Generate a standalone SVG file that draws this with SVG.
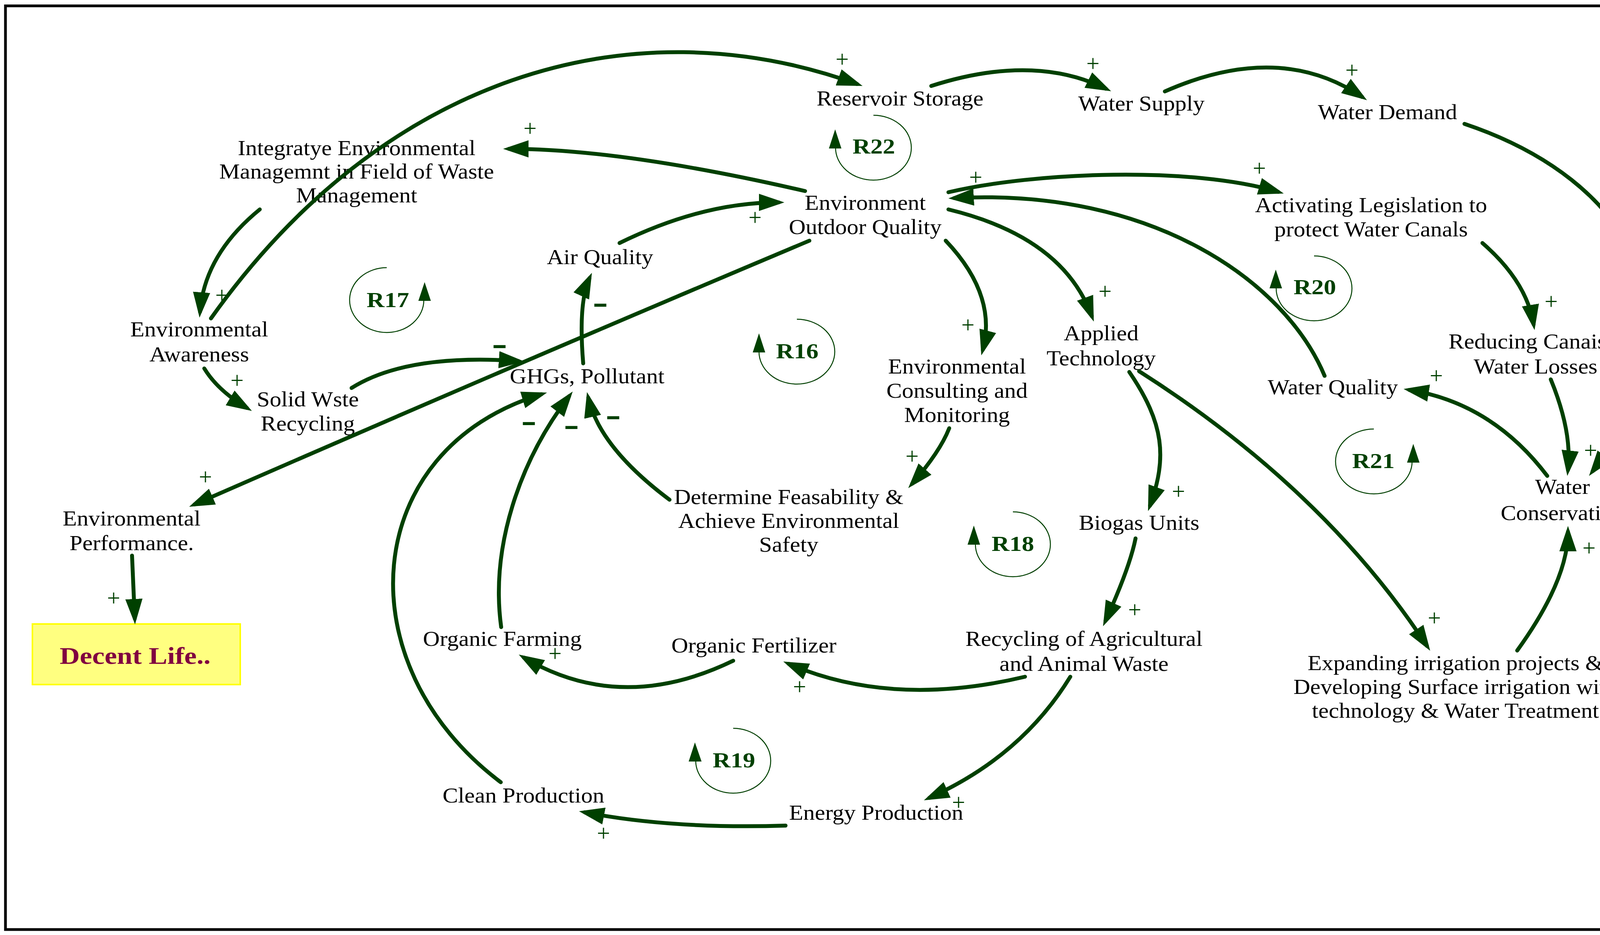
<svg xmlns="http://www.w3.org/2000/svg" width="4399" height="2393" viewBox="0 0 4399 2393">
<defs>
<style>
.t{font-family:'Liberation Serif','Times New Roman',serif;font-size:55px;fill:#000;text-anchor:middle}
.r{font-family:'Liberation Serif','Times New Roman',serif;font-size:54px;font-weight:bold;fill:#004000;text-anchor:middle}
.p{font-family:'Liberation Serif','Times New Roman',serif;font-size:60px;fill:#004000;text-anchor:middle}
.m{font-family:'Liberation Sans',Arial,sans-serif;font-size:58px;font-weight:bold;fill:#004000;stroke:#004000;stroke-width:2;text-anchor:middle}
.c{fill:none;stroke:#004000;stroke-width:10;stroke-linecap:round;marker-end:url(#ah)}
.l{fill:none;stroke:#004000;stroke-width:2.5}
.lh{fill:#004000}
</style>
<marker id="ah" markerUnits="userSpaceOnUse" markerWidth="70" markerHeight="50" viewBox="0 -25 70 50" refX="50" refY="0" orient="auto">
<path d="M0,-22 L65,0 L0,22 z" fill="#004000"/>
</marker>
</defs>
<rect x="0" y="0" width="4399" height="2393" fill="#fff"/>
<rect x="14" y="15" width="4366" height="2364" fill="none" stroke="#000" stroke-width="7"/>

<g id="nodes">
<g id="n-reservoir"><text class="t" transform="matrix(1.08,0,0,1,2304,0)" x="0" y="270">Reservoir Storage</text></g>
<g id="n-watersupply"><text class="t" transform="matrix(1.08,0,0,1,2922,0)" x="0" y="283">Water Supply</text></g>
<g id="n-waterdemand"><text class="t" transform="matrix(1.08,0,0,1,3552,0)" x="0" y="305">Water Demand</text></g>
<g id="n-integrate"><text class="t" transform="matrix(1.08,0,0,1,913,0)"><tspan x="0" y="397">Integratye Environmental</tspan><tspan x="0" y="457">Managemnt in Field of Waste</tspan><tspan x="0" y="518">Management</tspan></text></g>
<g id="n-environment"><text class="t" transform="matrix(1.08,0,0,1,2215,0)"><tspan x="0" y="537">Environment</tspan><tspan x="0" y="599">Outdoor Quality</tspan></text></g>
<g id="n-airquality"><text class="t" transform="matrix(1.08,0,0,1,1536,0)" x="0" y="676">Air Quality</text></g>
<g id="n-awareness"><text class="t" transform="matrix(1.08,0,0,1,510,0)"><tspan x="0" y="861">Environmental</tspan><tspan x="0" y="925">Awareness</tspan></text></g>
<g id="n-solidwaste"><text class="t" transform="matrix(1.08,0,0,1,788,0)"><tspan x="0" y="1040">Solid Wste</tspan><tspan x="0" y="1102">Recycling</tspan></text></g>
<g id="n-performance"><text class="t" transform="matrix(1.08,0,0,1,337,0)"><tspan x="0" y="1345">Environmental</tspan><tspan x="0" y="1408">Performance.</tspan></text></g>
<g id="n-ghgs"><text class="t" transform="matrix(1.08,0,0,1,1503,0)" x="0" y="981">GHGs, Pollutant</text></g>
<g id="n-determine"><text class="t" transform="matrix(1.08,0,0,1,2019,0)"><tspan x="0" y="1290">Determine Feasability &amp;</tspan><tspan x="0" y="1351">Achieve Environmental</tspan><tspan x="0" y="1412">Safety</tspan></text></g>
<g id="n-consulting"><text class="t" transform="matrix(1.08,0,0,1,2450,0)"><tspan x="0" y="956">Environmental</tspan><tspan x="0" y="1018">Consulting and</tspan><tspan x="0" y="1080">Monitoring</tspan></text></g>
<g id="n-applied"><text class="t" transform="matrix(1.08,0,0,1,2819,0)"><tspan x="0" y="871">Applied</tspan><tspan x="0" y="935">Technology</tspan></text></g>
<g id="n-biogas"><text class="t" transform="matrix(1.08,0,0,1,2916,0)" x="0" y="1356">Biogas Units</text></g>
<g id="n-legislation"><text class="t" transform="matrix(1.08,0,0,1,3510,0)"><tspan x="0" y="543">Activating Legislation to</tspan><tspan x="0" y="605">protect Water Canals</tspan></text></g>
<g id="n-reducing"><text class="t" transform="matrix(1.08,0,0,1,3931,0)"><tspan x="0" y="892">Reducing Canais a</tspan><tspan x="0" y="956">Water Losses</tspan></text></g>
<g id="n-waterquality"><text class="t" transform="matrix(1.08,0,0,1,3412,0)" x="0" y="1009">Water Quality</text></g>
<g id="n-conservation"><text class="t" transform="matrix(1.08,0,0,1,4000,0)"><tspan x="0" y="1264">Water</tspan><tspan x="0" y="1331">Conservation</tspan></text></g>
<g id="n-expanding"><text class="t" transform="matrix(1.08,0,0,1,3726,0)"><tspan x="0" y="1715">Expanding irrigation projects &amp;</tspan><tspan x="0" y="1776">Developing Surface irrigation with</tspan><tspan x="0" y="1837">technology &amp; Water Treatment</tspan></text></g>
<g id="n-recycling"><text class="t" transform="matrix(1.08,0,0,1,2775,0)"><tspan x="0" y="1653">Recycling of Agricultural</tspan><tspan x="0" y="1717">and Animal Waste</tspan></text></g>
<g id="n-fertilizer"><text class="t" transform="matrix(1.08,0,0,1,1930,0)" x="0" y="1670">Organic Fertilizer</text></g>
<g id="n-farming"><text class="t" transform="matrix(1.08,0,0,1,1286,0)" x="0" y="1653">Organic Farming</text></g>
<g id="n-clean"><text class="t" transform="matrix(1.08,0,0,1,1340,0)" x="0" y="2054">Clean Production</text></g>
<g id="n-energy"><text class="t" transform="matrix(1.08,0,0,1,2243,0)" x="0" y="2098">Energy Production</text></g>
<g id="n-decent">
<rect x="83" y="1597" width="532" height="155" fill="#FFFF80" stroke="#FFFF00" stroke-width="4"/>
<text transform="matrix(1.17,0,0,1,346,0)" x="0" y="1699" style="font-family:'Liberation Serif','Times New Roman',serif;font-size:61px;font-weight:bold;fill:#800040;text-anchor:middle">Decent Life..</text>
</g>
</g>

<g id="connectors">
<path class="c" d="M540,815 C977,199 1610,5 2194,215"/>
<path class="c" d="M665,536 Q524,651 512,798"/>
<path class="c" d="M2061,489 Q1593,381 1303,381"/>
<path class="c" d="M1586,622 Q1798,518 1993,518"/>
<path class="c" d="M1493,930 Q1480,775 1509,712"/>
<path class="c" d="M900,993 C1000,930 1150,912 1327,924"/>
<path class="c" d="M2072,616 Q1290,945 498,1291"/>
<path class="c" d="M338,1422 L345,1583"/>
<path class="c" d="M523,943 Q557,999 632,1044"/>
<path class="c" d="M1282,2002 C880,1700 920,1150 1386,1009"/>
<path class="c" d="M1283,1605 C1255,1400 1330,1180 1457,1014"/>
<path class="c" d="M1714,1279 Q1535,1145 1506,1018"/>
<path class="c" d="M2421,616 Q2553,755 2516,895"/>
<path class="c" d="M2430,1096 Q2406,1157 2335,1238"/>
<path class="c" d="M2428,536 Q2721,607 2795,809"/>
<path class="c" d="M2428,492 C2650,440 3050,425 3272,491"/>
<path class="c" d="M3391,962 C3290,720 2950,480 2443,507"/>
<path class="c" d="M3795,622 Q3908,720 3926,830"/>
<path class="c" d="M3749,317 C4176,460 4380,808 4077,1206"/>
<path class="c" d="M3970,971 Q4025,1105 4014,1203"/>
<path class="c" d="M3961,1218 Q3820,1032 3608,998"/>
<path class="c" d="M3884,1665 Q4014,1485 4014,1361"/>
<path class="c" d="M2916,950 Q3390,1252 3653,1653"/>
<path class="c" d="M2891,952 C2981,1084 2988,1172 2944,1294"/>
<path class="c" d="M2907,1378 Q2892,1453 2830,1589"/>
<path class="c" d="M2624,1732 Q2284,1813 2019,1699"/>
<path class="c" d="M1877,1691 Q1590,1830 1341,1683"/>
<path class="c" d="M2740,1732 Q2615,1936 2379,2042"/>
<path class="c" d="M2011,2113 Q1719,2122 1497,2079"/>
<path class="c" d="M2982,234 Q3275,105 3487,248"/>
<path class="c" d="M2384,220 Q2646,136 2831,227"/>
</g>

<g id="polarities">
<text class="p" x="2156" y="171">+</text>
<text class="p" x="2798" y="182">+</text>
<text class="p" x="3461" y="199">+</text>
<text class="p" x="1357" y="348">+</text>
<text class="p" x="1933" y="576">+</text>
<text class="p" x="2498" y="473">+</text>
<text class="p" x="3224" y="450">+</text>
<text class="p" x="2829" y="765">+</text>
<text class="p" x="2478" y="851">+</text>
<text class="p" x="2335" y="1187">+</text>
<text class="p" x="3017" y="1277">+</text>
<text class="p" x="2905" y="1580">+</text>
<text class="p" x="3971" y="791">+</text>
<text class="p" x="3677" y="981">+</text>
<text class="p" x="4072" y="1172">+</text>
<text class="p" x="4159" y="1208">+</text>
<text class="p" x="4068" y="1422">+</text>
<text class="p" x="3672" y="1601">+</text>
<text class="p" x="568" y="775">+</text>
<text class="p" x="607" y="993">+</text>
<text class="p" x="526" y="1240">+</text>
<text class="p" x="291" y="1550">+</text>
<text class="p" x="1421" y="1692">+</text>
<text class="p" x="2047" y="1777">+</text>
<text class="p" x="1545" y="2152">+</text>
<text class="p" x="2454" y="2073">+</text>
<text class="m" x="1279" y="903">–</text>
<text class="m" x="1537" y="797">–</text>
<text class="m" x="1354" y="1100">–</text>
<text class="m" x="1463" y="1110">–</text>
<text class="m" x="1570" y="1085">–</text>
</g>

<g id="loops">
<g id="loop-R22"><path class="l" d="M2236,295 A97,83 0 1 1 2139,378"/><polygon class="lh" points="2138,331 2122,380 2154,380"/><text class="r" transform="matrix(1.17,0,0,1,2237,0)" x="0" y="393">R22</text></g>
<g id="loop-R17"><path class="l" d="M990,685 A95,83 0 1 0 1085,768"/><polygon class="lh" points="1087,722 1071,770 1103,770"/><text class="r" transform="matrix(1.17,0,0,1,993,0)" x="0" y="786">R17</text></g>
<g id="loop-R16"><path class="l" d="M2040,817 A97,83 0 1 1 1943,900"/><polygon class="lh" points="1943,853 1927,902 1959,902"/><text class="r" transform="matrix(1.17,0,0,1,2041,0)" x="0" y="917">R16</text></g>
<g id="loop-R18"><path class="l" d="M2593,1310 A96,83 0 1 1 2497,1393"/><polygon class="lh" points="2493,1345 2477,1394 2509,1394"/><text class="r" transform="matrix(1.17,0,0,1,2593,0)" x="0" y="1410">R18</text></g>
<g id="loop-R19"><path class="l" d="M1877,1864 A96,83 0 1 1 1781,1947"/><polygon class="lh" points="1779,1900 1763,1949 1796,1949"/><text class="r" transform="matrix(1.17,0,0,1,1879,0)" x="0" y="1964">R19</text></g>
<g id="loop-R20"><path class="l" d="M3364,655 A97,83 0 1 1 3267,738"/><polygon class="lh" points="3266,690 3250,738 3282,738"/><text class="r" transform="matrix(1.17,0,0,1,3366,0)" x="0" y="753">R20</text></g>
<g id="loop-R21"><path class="l" d="M3517,1098 A98,83 0 1 0 3615,1181"/><polygon class="lh" points="3618,1136 3602,1184 3634,1184"/><text class="r" transform="matrix(1.17,0,0,1,3516,0)" x="0" y="1198">R21</text></g>
</g>
</svg>
